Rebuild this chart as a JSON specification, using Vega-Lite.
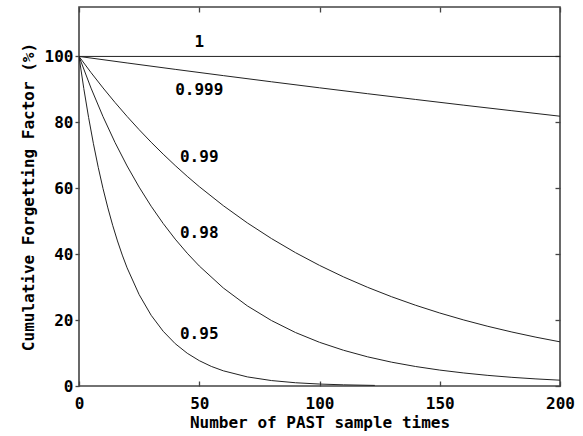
{
  "$schema": "https://vega.github.io/schema/vega-lite/v6.json",
  "width": 481,
  "height": 379,
  "autosize": {"type": "none"},
  "padding": {"left": 79, "top": 7, "right": 23, "bottom": 50},
  "background": "white",
  "config": {
    "view": {"stroke": "#444", "strokeWidth": 1.6},
    "font": "DejaVu Sans Mono",
    "axis": {"labelFont": "DejaVu Sans Mono", "titleFont": "DejaVu Sans Mono", "labelFontWeight": "bold", "titleFontWeight": "bold", "labelFontSize": 16, "titleFontSize": 16, "labelColor": "black", "titleColor": "black", "grid": false, "domainColor": "#444", "tickColor": "#444", "tickWidth": 1.3, "labelFlush": false}
  },
  "resolve": {"axis": {"x": "independent", "y": "independent"}},
  "datasets": {
    "curves": [
      {"n": 0, "v": 100, "f": "1"}, {"n": 200, "v": 100, "f": "1"},
      {"n": 0, "v": 100, "f": "0.999"}, {"n": 20, "v": 98.02, "f": "0.999"}, {"n": 40, "v": 96.08, "f": "0.999"}, {"n": 60, "v": 94.18, "f": "0.999"}, {"n": 80, "v": 92.31, "f": "0.999"}, {"n": 100, "v": 90.48, "f": "0.999"}, {"n": 120, "v": 88.69, "f": "0.999"}, {"n": 140, "v": 86.94, "f": "0.999"}, {"n": 160, "v": 85.21, "f": "0.999"}, {"n": 180, "v": 83.53, "f": "0.999"}, {"n": 200, "v": 81.86, "f": "0.999"},
      {"n": 0, "v": 100, "f": "0.99"}, {"n": 5, "v": 95.10, "f": "0.99"}, {"n": 10, "v": 90.44, "f": "0.99"}, {"n": 15, "v": 86.01, "f": "0.99"}, {"n": 20, "v": 81.79, "f": "0.99"}, {"n": 25, "v": 77.78, "f": "0.99"}, {"n": 30, "v": 73.97, "f": "0.99"}, {"n": 35, "v": 70.35, "f": "0.99"}, {"n": 40, "v": 66.90, "f": "0.99"}, {"n": 45, "v": 63.62, "f": "0.99"}, {"n": 50, "v": 60.50, "f": "0.99"}, {"n": 60, "v": 54.72, "f": "0.99"}, {"n": 70, "v": 49.48, "f": "0.99"}, {"n": 80, "v": 44.75, "f": "0.99"}, {"n": 90, "v": 40.47, "f": "0.99"}, {"n": 100, "v": 36.60, "f": "0.99"}, {"n": 110, "v": 33.10, "f": "0.99"}, {"n": 120, "v": 29.94, "f": "0.99"}, {"n": 130, "v": 27.08, "f": "0.99"}, {"n": 140, "v": 24.49, "f": "0.99"}, {"n": 150, "v": 22.15, "f": "0.99"}, {"n": 160, "v": 20.03, "f": "0.99"}, {"n": 170, "v": 18.11, "f": "0.99"}, {"n": 180, "v": 16.38, "f": "0.99"}, {"n": 190, "v": 14.81, "f": "0.99"}, {"n": 200, "v": 13.40, "f": "0.99"},
      {"n": 0, "v": 100, "f": "0.98"}, {"n": 5, "v": 90.39, "f": "0.98"}, {"n": 10, "v": 81.71, "f": "0.98"}, {"n": 15, "v": 73.86, "f": "0.98"}, {"n": 20, "v": 66.76, "f": "0.98"}, {"n": 25, "v": 60.35, "f": "0.98"}, {"n": 30, "v": 54.55, "f": "0.98"}, {"n": 35, "v": 49.31, "f": "0.98"}, {"n": 40, "v": 44.57, "f": "0.98"}, {"n": 45, "v": 40.29, "f": "0.98"}, {"n": 50, "v": 36.42, "f": "0.98"}, {"n": 60, "v": 29.75, "f": "0.98"}, {"n": 70, "v": 24.31, "f": "0.98"}, {"n": 80, "v": 19.87, "f": "0.98"}, {"n": 90, "v": 16.23, "f": "0.98"}, {"n": 100, "v": 13.26, "f": "0.98"}, {"n": 110, "v": 10.84, "f": "0.98"}, {"n": 120, "v": 8.85, "f": "0.98"}, {"n": 130, "v": 7.23, "f": "0.98"}, {"n": 140, "v": 5.91, "f": "0.98"}, {"n": 150, "v": 4.83, "f": "0.98"}, {"n": 160, "v": 3.95, "f": "0.98"}, {"n": 170, "v": 3.22, "f": "0.98"}, {"n": 180, "v": 2.63, "f": "0.98"}, {"n": 190, "v": 2.15, "f": "0.98"}, {"n": 200, "v": 1.76, "f": "0.98"},
      {"n": 0, "v": 100, "f": "0.95"}, {"n": 2, "v": 90.25, "f": "0.95"}, {"n": 4, "v": 81.45, "f": "0.95"}, {"n": 6, "v": 73.51, "f": "0.95"}, {"n": 8, "v": 66.34, "f": "0.95"}, {"n": 10, "v": 59.87, "f": "0.95"}, {"n": 12, "v": 54.04, "f": "0.95"}, {"n": 14, "v": 48.77, "f": "0.95"}, {"n": 16, "v": 44.01, "f": "0.95"}, {"n": 18, "v": 39.72, "f": "0.95"}, {"n": 20, "v": 35.85, "f": "0.95"}, {"n": 25, "v": 27.74, "f": "0.95"}, {"n": 30, "v": 21.46, "f": "0.95"}, {"n": 35, "v": 16.61, "f": "0.95"}, {"n": 40, "v": 12.85, "f": "0.95"}, {"n": 45, "v": 9.94, "f": "0.95"}, {"n": 50, "v": 7.69, "f": "0.95"}, {"n": 55, "v": 5.95, "f": "0.95"}, {"n": 60, "v": 4.61, "f": "0.95"}, {"n": 70, "v": 2.76, "f": "0.95"}, {"n": 80, "v": 1.65, "f": "0.95"}, {"n": 90, "v": 0.99, "f": "0.95"}, {"n": 100, "v": 0.59, "f": "0.95"}, {"n": 110, "v": 0.36, "f": "0.95"}, {"n": 123, "v": 0.18, "f": "0.95"}
    ],
    "labels": [
      {"n": 50, "v": 104.5, "t": "1"},
      {"n": 50, "v": 89.7, "t": "0.999"},
      {"n": 50, "v": 69.4, "t": "0.99"},
      {"n": 50, "v": 46.4, "t": "0.98"},
      {"n": 50, "v": 15.8, "t": "0.95"}
    ]
  },
  "layer": [
    {
      "data": {"name": "curves"},
      "mark": {"type": "line", "color": "#222", "strokeWidth": 1, "clip": true},
      "encoding": {
        "x": {"field": "n", "type": "quantitative", "scale": {"domain": [0, 200], "nice": false}, "axis": {"title": "Number of PAST sample times", "values": [0, 50, 100, 150, 200], "tickSize": -5, "labelPadding": 14, "titlePadding": 3, "domain": false}},
        "y": {"field": "v", "type": "quantitative", "scale": {"domain": [0, 115], "nice": false}, "axis": {"title": "Cumulative Forgetting Factor (%)", "values": [0, 20, 40, 60, 80, 100], "tickSize": 4, "labelPadding": 2, "titlePadding": 8, "domain": false}},
        "detail": {"field": "f", "type": "nominal"}
      }
    },
    {
      "data": {"name": "labels"},
      "mark": {"type": "text", "font": "DejaVu Sans Mono", "fontWeight": "bold", "fontSize": 16, "color": "black", "align": "center", "baseline": "middle"},
      "encoding": {
        "x": {"field": "n", "type": "quantitative", "axis": {"orient": "top", "title": null, "labels": false, "values": [0, 50, 100, 150, 200], "tickSize": -5, "domain": false}},
        "y": {"field": "v", "type": "quantitative", "axis": {"orient": "right", "title": null, "labels": false, "values": [0, 20, 40, 60, 80, 100], "tickSize": -5, "domain": false}},
        "text": {"field": "t", "type": "nominal"}
      }
    }
  ]
}
